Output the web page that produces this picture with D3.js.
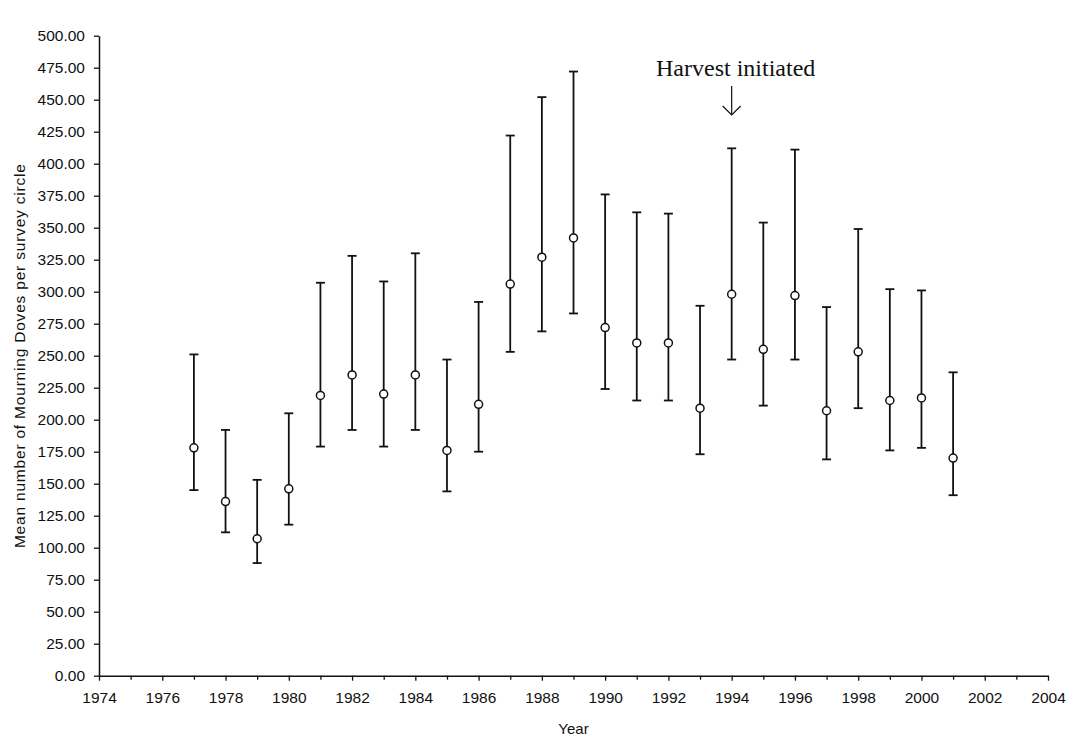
<!DOCTYPE html>
<html><head><meta charset="utf-8">
<script src="https://cdn.jsdelivr.net/npm/d3@7"></script>
<style>
body{margin:0;background:#fff;}
svg{display:block;}
</style></head>
<body>
<svg id="chart" width="1079" height="740"></svg>
<script>
const years = [1977,1978,1979,1980,1981,1982,1983,1984,1985,1986,1987,1988,1989,1990,1991,1992,1993,1994,1995,1996,1997,1998,1999,2000,2001];
const means = [178,136,107,146,219,235,220,235,176,212,306,327,342,272,260,260,209,298,255,297,207,253,215,217,170];
const upper = [251,192,153,205,307,328,308,330,247,292,422,452,472,376,362,361,289,412,354,411,288,349,302,301,237];
const lower = [145,112,88,118,179,192,179,192,144,175,253,269,283,224,215,215,173,247,211,247,169,209,176,178,141];
const yTicks = d3.range(0, 501, 25);
const xMajor = d3.range(1974, 2005, 2);
const xMinor = d3.range(1975, 2004, 2);
const annotation = {year: 1994, text: "Harvest initiated"};

const svg = d3.select("#chart");
const x = d3.scaleLinear().domain([1974, 2004]).range([99, 1048]);
const y = d3.scaleLinear().domain([0, 500]).range([675.7, 35.7]);
const axisFont = "'Liberation Sans', Arial, sans-serif";

// Y axis
const yAxis = svg.append("g").attr("transform", `translate(${x(1974)},0)`)
  .call(d3.axisLeft(y).tickValues(yTicks).tickFormat(d3.format(".2f")).tickSize(5).tickPadding(9).tickSizeOuter(0));
yAxis.select(".domain").attr("stroke", "#111").attr("stroke-width", 1.5);
yAxis.selectAll(".tick line").attr("stroke", "#111").attr("stroke-width", 1.3);
yAxis.selectAll("text").attr("font-family", axisFont).attr("font-size", 15.5).attr("fill", "#111");

// X axis minor ticks
const xMinorAxis = svg.append("g").attr("transform", `translate(0,${y(0)})`)
  .call(d3.axisBottom(x).tickValues(xMinor).tickFormat("").tickSize(4).tickSizeOuter(0));
xMinorAxis.select(".domain").remove();
xMinorAxis.selectAll(".tick line").attr("stroke", "#111").attr("stroke-width", 1.3);

const xAxis = svg.append("g").attr("transform", `translate(0,${y(0)})`)
  .call(d3.axisBottom(x).tickValues(xMajor).tickFormat(d3.format("d")).tickSize(5).tickPadding(11).tickSizeOuter(0));
xAxis.select(".domain").attr("stroke", "#111").attr("stroke-width", 1.5);
xAxis.selectAll(".tick line").attr("stroke", "#111").attr("stroke-width", 1.3);
xAxis.selectAll("text").attr("font-family", axisFont).attr("font-size", 15.5).attr("fill", "#111");

// Axis titles
svg.append("text").attr("x", (x(1974)+x(2004))/2).attr("y", 734)
  .attr("text-anchor", "middle").attr("font-family", axisFont).attr("font-size", 15).attr("fill", "#111").text("Year");
svg.append("text").attr("transform", `translate(25,${(y(0)+y(500))/2}) rotate(-90)`)
  .attr("text-anchor", "middle").attr("font-family", axisFont).attr("font-size", 15.5)
  .attr("letter-spacing", 0.8).attr("fill", "#111")
  .text("Mean number of Mourning Doves per survey circle");

// Error bars
const g = svg.append("g");
const cap = 4.5;
years.forEach((yr, i) => {
  const cx = x(yr);
  g.append("line").attr("x1", cx).attr("x2", cx).attr("y1", y(lower[i])).attr("y2", y(upper[i]))
    .attr("stroke", "#111").attr("stroke-width", 1.8);
  g.append("line").attr("x1", cx-cap).attr("x2", cx+cap).attr("y1", y(upper[i])).attr("y2", y(upper[i]))
    .attr("stroke", "#111").attr("stroke-width", 1.8);
  g.append("line").attr("x1", cx-cap).attr("x2", cx+cap).attr("y1", y(lower[i])).attr("y2", y(lower[i]))
    .attr("stroke", "#111").attr("stroke-width", 1.8);
});
g.selectAll("circle").data(years).join("circle")
  .attr("cx", d => x(d)).attr("cy", (d, i) => y(means[i])).attr("r", 4)
  .attr("fill", "#fff").attr("stroke", "#111").attr("stroke-width", 1.5);

// Annotation
const ax = x(annotation.year);
svg.append("text").attr("x", ax + 4).attr("y", 76).attr("text-anchor", "middle")
  .attr("font-family", "'Liberation Serif', 'Times New Roman', serif").attr("font-size", 24).attr("fill", "#111")
  .text(annotation.text);
svg.append("line").attr("x1", ax).attr("x2", ax).attr("y1", 86).attr("y2", 115).attr("stroke", "#111").attr("stroke-width", 1.2);
svg.append("path").attr("d", `M${ax-9},${106} L${ax},${115} L${ax+9},${106}`)
  .attr("fill", "none").attr("stroke", "#111").attr("stroke-width", 1.2);
</script>
</body></html>
